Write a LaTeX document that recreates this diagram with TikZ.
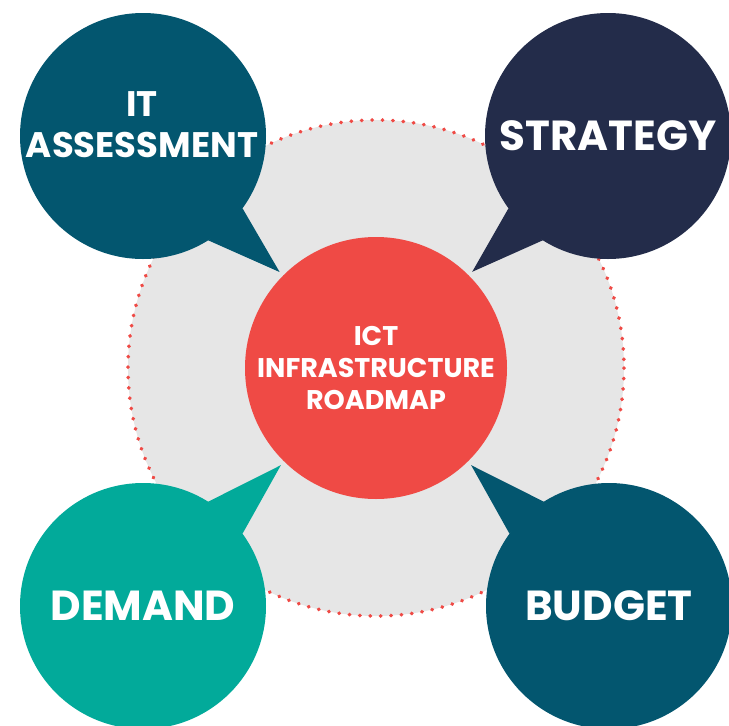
\documentclass[tikz,border=0pt]{standalone}
\usepackage{fontspec}
\setmainfont{Poppins}
\usetikzlibrary{calc}
\definecolor{roadteal}{HTML}{03566F}
\definecolor{roadnavy}{HTML}{232C4A}
\definecolor{roadgreen}{HTML}{02AA9A}
\definecolor{roadred}{HTML}{EF4A45}
\definecolor{roadgrey}{HTML}{E6E6E6}

\begin{document}
\begin{tikzpicture}[x=1pt, y=-1pt,
        bubble/.style={circle, minimum size=246pt, inner sep=0pt, outer sep=0pt, align=center, text=white, font=\bfseries\fontsize{42}{48}\selectfont},
        hub/.style={circle, minimum size=262pt, inner sep=0pt, outer sep=0pt, align=center, fill=roadred, text=white, font=\bfseries\fontsize{27}{32}\selectfont},
        ring/.style={fill=roadgrey, draw=roadred, line width=3.8pt, line cap=round, dash pattern=on 0.3pt off 10.1pt}
    ]
        \clip (0,0) rectangle (729,726);
        \useasboundingbox (0,0) rectangle (729,726);

        \coordinate (c) at (376,368);
        \draw [ring] (c) circle [radius=248];

        \node (it) [bubble, fill=roadteal] at (143,136) {};
        \node (ittext) [align=center, text=white, font=\bfseries\fontsize{35.5}{41}\selectfont] at (142,125) {IT\\ASSESSMENT};
        \node (st) [bubble, fill=roadnavy] at (608,136) {STRATEGY};
        \node (dm) [bubble, fill=roadgreen] at (143,606) {DEMAND};
        \node (bg) [bubble, fill=roadteal] at (609,606) {BUDGET};

        \fill [roadteal] (it.-36) -- ($(c)!136pt!(it)$) -- (it.-58) -- cycle;
        \fill [roadnavy] (st.216) -- ($(c)!136pt!(st)$) -- (st.238) -- cycle;
        \fill [roadgreen] (dm.36) -- ($(c)!136pt!(dm)$) -- (dm.58) -- cycle;
        \fill [roadteal] (bg.144) -- ($(c)!136pt!(bg)$) -- (bg.122) -- cycle;

        \node (hub) [hub] at (c) {ICT\\INFRASTRUCTURE\\ROADMAP};
    \end{tikzpicture}
\end{document}
